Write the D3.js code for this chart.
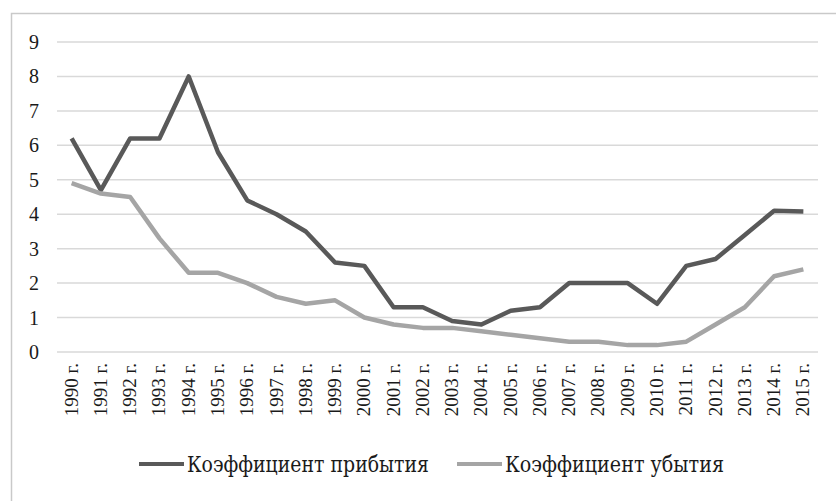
<!DOCTYPE html>
<html>
<head>
<meta charset="utf-8">
<script src="https://cdn.jsdelivr.net/npm/d3@7"></script>
<style>
  body { margin: 0; background: #fff; }
  svg { display: block; font-family: "Liberation Serif", "DejaVu Serif", serif; }
</style>
</head>
<body>
<svg width="836" height="501"></svg>
<script>
const width = 836
const height = 501

// данные
const years = ['1990','1991','1992','1993','1994','1995','1996','1997','1998','1999','2000','2001','2002',
  '2003','2004','2005','2006','2007','2008','2009','2010','2011','2012','2013','2014','2015']
const arrivals = [6.2,4.7,6.2,6.2,8.0,5.8,4.4,4.0,3.5,2.6,2.5,1.3,1.3,0.9,0.8,1.2,1.3,2.0,2.0,2.0,1.4,2.5,2.7,3.4,4.1,4.08]
const departures = [4.9,4.6,4.5,3.3,2.3,2.3,2.0,1.6,1.4,1.5,1.0,0.8,0.7,0.7,0.6,0.5,0.4,0.3,0.3,0.2,0.2,0.3,0.8,1.3,2.2,2.4]
const seriesNames = ['Коэффициент прибытия', 'Коэффициент убытия']
const seriesColors = ['#595959', '#a5a5a5']
const yTicks = [0,1,2,3,4,5,6,7,8,9]

const svg = d3.select('svg')

// рамка
svg.append('rect')
  .attr('x', 11.5).attr('y', 13.5)
  .attr('width', 840).attr('height', 500)
  .attr('fill', 'none').attr('stroke', '#c9c9c9').attr('stroke-width', 1.5)

const x = d3.scalePoint().domain(years).range([57, 818]).padding(0.5)
const y = d3.scaleLinear().domain([0, 9]).range([352, 42])

// сетка
svg.append('g').selectAll('line').data(yTicks).enter().append('line')
  .attr('x1', 57).attr('x2', 818)
  .attr('y1', d => y(d)).attr('y2', d => y(d))
  .attr('stroke', '#d9d9d9').attr('stroke-width', 1.5)

// ось Y
svg.append('g').selectAll('text').data(yTicks).enter().append('text')
  .attr('x', 34).attr('y', d => y(d))
  .attr('dy', '0.35em')
  .attr('text-anchor', 'middle')
  .attr('font-size', 20)
  .attr('fill', '#1a1a1a')
  .text(d => d)

// ось X
svg.append('g').selectAll('text').data(years).enter().append('text')
  .attr('transform', d => 'translate(' + (x(d) + 6) + ',363) rotate(-90)')
  .attr('text-anchor', 'end')
  .attr('font-size', 19)
  .attr('fill', '#1a1a1a')
  .text(d => d + ' г.')

// линии
const line = d3.line()
  .x((d, i) => x(years[i]))
  .y(d => y(d))

;[arrivals, departures].forEach((vals, k) => {
  svg.append('path')
    .datum(vals)
    .attr('d', line)
    .attr('fill', 'none')
    .attr('stroke', seriesColors[k])
    .attr('stroke-width', 4.5)
    .attr('stroke-linejoin', 'round')
})

// легенда
const legendX = [139, 457]
const legendW = [242, 219]
seriesNames.forEach((name, k) => {
  const lg = svg.append('g').attr('transform', 'translate(' + legendX[k] + ',464)')
  lg.append('line')
    .attr('x1', 0).attr('x2', 45)
    .attr('stroke', seriesColors[k]).attr('stroke-width', 4)
  lg.append('text')
    .attr('x', 48).attr('dy', '0.36em')
    .attr('font-size', 22)
    .attr('font-family', '"DejaVu Serif", serif')
    .attr('fill', '#1a1a1a')
    .attr('textLength', legendW[k])
    .attr('lengthAdjust', 'spacingAndGlyphs')
    .text(name)
})
</script>
</body>
</html>
